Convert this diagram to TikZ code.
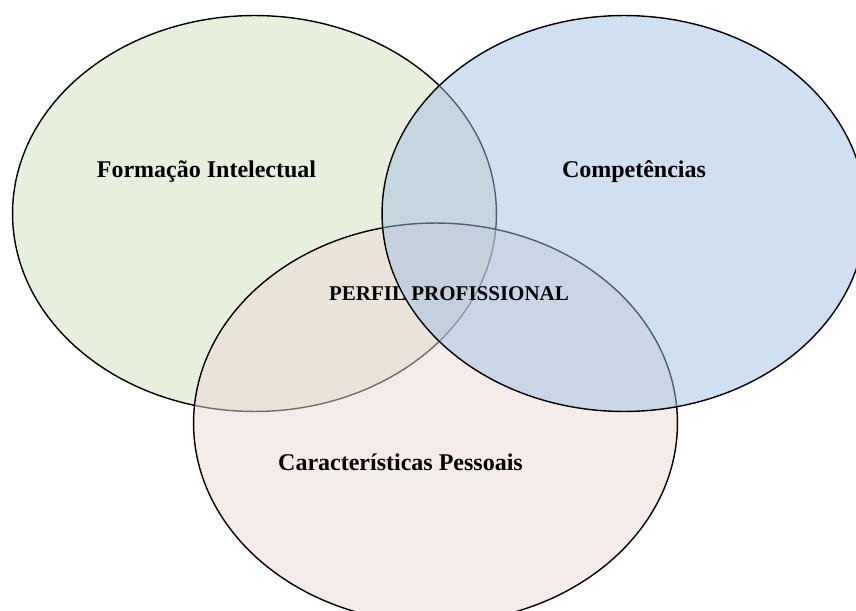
\documentclass[tikz,border=0pt]{standalone}
\usepackage{fontspec}
\setmainfont{Liberation Serif}
\usepackage{tikz}
\usetikzlibrary{shapes.geometric}
\definecolor{vgreen}{HTML}{D1E1BB}
\definecolor{vpink}{HTML}{EBD7D7}
\definecolor{vblue}{HTML}{A1BFE5}

\begin{document}
\begin{tikzpicture}[x=0.02cm, y=-0.02cm,
  circ/.style={ellipse, draw=black, thick, fill opacity=0.5, inner sep=0pt, minimum width=9.68cm, minimum height=7.92cm},
  lab/.style={anchor=base, font=\bfseries\fontsize{13.66}{16}\selectfont}]
  \useasboundingbox (0,0) rectangle (856,611);
  \clip (0,0) rectangle (856,611);

  \node (F) [circ, fill=vgreen] at (254.5,213.5) {};
  \node (P) [circ, fill=vpink, minimum height=8cm] at (435.5,423) {};
  \node (C) [circ, fill=vblue] at (624,213.5) {};

  \node (Ft) [lab] at (206.5,178) {Formação Intelectual};
  \node (Ct) [lab] at (634,178) {Competências};
  \node (Pt) [lab] at (400.5,470) {Características Pessoais};
  \node (PP) [lab, font=\bfseries\fontsize{11.95}{14}\selectfont] at (449,301) {PERFIL PROFISSIONAL};
\end{tikzpicture}
\end{document}
